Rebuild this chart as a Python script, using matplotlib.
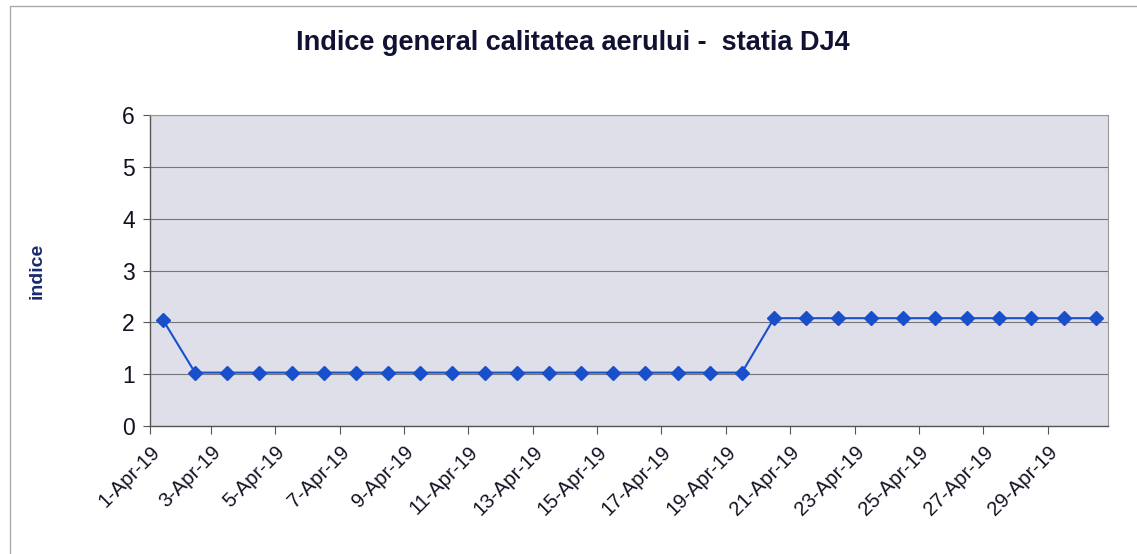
import matplotlib
matplotlib.use("Agg")
import matplotlib.pyplot as plt
from matplotlib.patches import Rectangle

plt.rcParams['font.family'] = ['Liberation Sans', 'DejaVu Sans']

days = list(range(1, 31))
values = [2.05] + [1.03] * 18 + [2.08] * 11
tick_labels = [f"{d}-Apr-19" for d in range(1, 31, 2)]

title = "Indice general calitatea aerului -  statia DJ4"
ylabel = "indice"

fig = plt.figure(figsize=(11.37, 5.54), dpi=100)
ax = fig.add_axes([150/1137, 1-426/554, (1108-150)/1137, (426-115)/554])
ax.set_facecolor('#dfdfe9')

x = [d - 1 for d in days]
ax.plot(x, values, color='#1a4fcc', marker='D', markersize=7, linewidth=1.5, zorder=3)

ax.set_xlim(-0.4, 29.38)
ax.set_ylim(0, 6)
ax.set_yticks(range(0, 7))
ax.set_xticks([-0.4] + [i - 0.5 for i in range(2, 30, 2)])
ax.set_xticklabels(tick_labels, rotation=45, ha='right', rotation_mode='anchor', fontsize=14.5, color='#111122')
ax.tick_params(axis='y', labelsize=16.5, length=5, color='#555555', labelcolor='#111122', pad=6)
ax.tick_params(axis='x', length=6, color='#555555', pad=6)
ax.grid(axis='y', color='#777777', linewidth=0.8)
ax.set_axisbelow(True)
for s in ['top', 'right']:
    ax.spines[s].set_color('#999999')
    ax.spines[s].set_linewidth(0.8)
for s in ['left', 'bottom']:
    ax.spines[s].set_color('#555555')
    ax.spines[s].set_linewidth(1.0)

ax.set_ylabel(ylabel, fontsize=14, fontweight='bold', color='#1a2a6e', labelpad=55)
fig.text(573/1137, 1-43/554, title, ha='center', va='center', fontsize=19.5, fontweight='bold', color='#111133')

fig.patches.append(Rectangle((10/1137, -0.01), 1.02, 1-6/554 + 0.01, transform=fig.transFigure,
                             fill=False, edgecolor='#aaaaaa', linewidth=1))

fig.savefig('out.png', dpi=100)
